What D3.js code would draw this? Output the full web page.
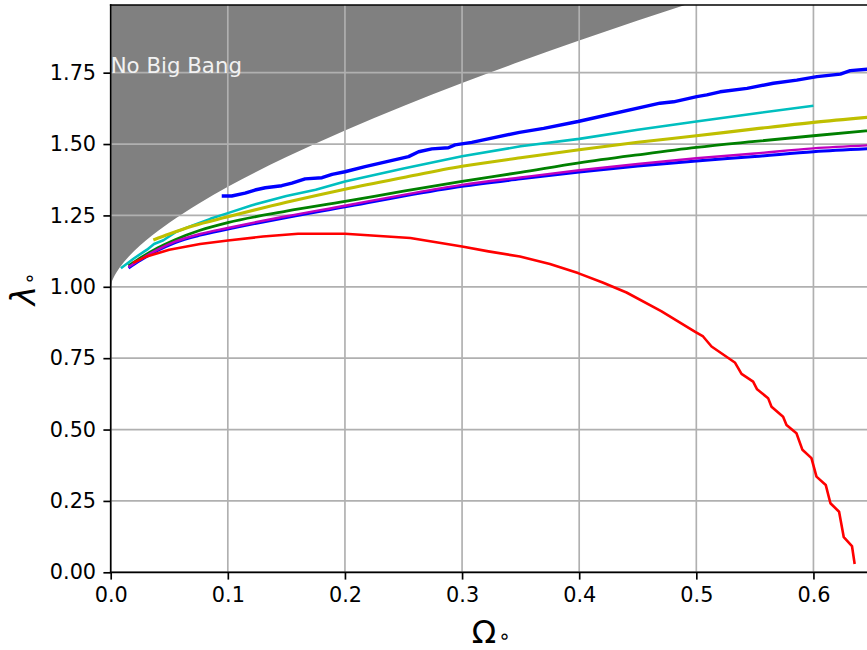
<!DOCTYPE html>
<html>
<head>
<meta charset="utf-8">
<script src="https://cdn.jsdelivr.net/npm/d3@7"></script>
<style>
  body { margin: 0; background: #fff; }
  svg { display: block; font-family: "DejaVu Sans", sans-serif; }
</style>
</head>
<body>
<svg id="chart" width="867" height="650"></svg>
<script>
// ---- data ----
const xTicks = [0.0, 0.1, 0.2, 0.3, 0.4, 0.5, 0.6];
const yTicks = [0.00, 0.25, 0.50, 0.75, 1.00, 1.25, 1.50, 1.75];

// "No Big Bang" boundary
const boundaryOmega  = [0, 0.001, 0.002, 0.005, 0.01, 0.02, 0.03, 0.05, 0.075, 0.1, 0.15, 0.2, 0.25, 0.3, 0.35, 0.4, 0.45, 0.5];
const boundaryLambda = [1.0, 1.018, 1.028, 1.051, 1.08, 1.125, 1.162, 1.2245, 1.291, 1.35, 1.4545, 1.5475, 1.6334, 1.7136, 1.7897, 1.8623, 1.9323, 2.0];

// blue (upper)
const blueUpperOmega  = [0.0948, 0.1033, 0.1147, 0.1232, 0.132, 0.146, 0.1547, 0.166, 0.1804, 0.189, 0.2, 0.2172, 0.2543, 0.2629, 0.2742, 0.2883, 0.294, 0.3083, 0.349, 0.3697, 0.399, 0.469, 0.4806, 0.5004, 0.509, 0.5203, 0.5433, 0.5658, 0.5858, 0.603, 0.623, 0.6314, 0.6462];
const blueUpperLambda = [1.318, 1.318, 1.328, 1.339, 1.347, 1.354, 1.363, 1.378, 1.382, 1.394, 1.403, 1.421, 1.456, 1.473, 1.483, 1.487, 1.497, 1.506, 1.541, 1.555, 1.579, 1.643, 1.648, 1.666, 1.672, 1.683, 1.695, 1.713, 1.724, 1.736, 1.745, 1.757, 1.762];

// cyan
const cyanOmega  = [0.0087, 0.02, 0.031, 0.037, 0.045, 0.056, 0.07, 0.085, 0.1, 0.12, 0.15, 0.175, 0.2, 0.25, 0.3, 0.35, 0.4, 0.45, 0.5, 0.55, 0.6];
const cyanLambda = [1.065, 1.10, 1.130, 1.150, 1.163, 1.193, 1.215, 1.238, 1.258, 1.285, 1.318, 1.340, 1.369, 1.414, 1.457, 1.492, 1.518, 1.550, 1.579, 1.607, 1.634];

// yellow
const yellowOmega  = [0.0364, 0.05, 0.07, 0.1, 0.15, 0.2, 0.25, 0.3, 0.35, 0.4, 0.45, 0.5, 0.55, 0.6, 0.65];
const yellowLambda = [1.164, 1.185, 1.213, 1.245, 1.296, 1.342, 1.383, 1.422, 1.452, 1.480, 1.506, 1.529, 1.553, 1.576, 1.595];

// green
const greenOmega  = [0.0152, 0.025, 0.04, 0.055, 0.0763, 0.1, 0.15, 0.2, 0.25, 0.3, 0.35, 0.4, 0.45, 0.5, 0.55, 0.6, 0.65];
const greenLambda = [1.073, 1.100, 1.136, 1.165, 1.198, 1.225, 1.265, 1.299, 1.335, 1.369, 1.401, 1.434, 1.462, 1.488, 1.509, 1.529, 1.548];

// blue (lower)
const blueLowerOmega  = [0.0152, 0.025, 0.04, 0.055, 0.0763, 0.1, 0.15, 0.2, 0.25, 0.3, 0.35, 0.4, 0.45, 0.5, 0.55, 0.6, 0.65];
const blueLowerLambda = [1.066, 1.092, 1.127, 1.155, 1.181, 1.202, 1.243, 1.280, 1.318, 1.352, 1.378, 1.402, 1.423, 1.441, 1.456, 1.473, 1.484];

// magenta
const magentaOmega  = [0.0152, 0.025, 0.04, 0.055, 0.0763, 0.1, 0.15, 0.2, 0.25, 0.3, 0.35, 0.4, 0.45, 0.5, 0.55, 0.6, 0.65];
const magentaLambda = [1.069, 1.095, 1.130, 1.158, 1.185, 1.206, 1.247, 1.284, 1.322, 1.357, 1.383, 1.408, 1.430, 1.450, 1.467, 1.485, 1.496];

// red
const redOmega  = [0.019, 0.03, 0.05, 0.0763, 0.1, 0.13, 0.16, 0.2, 0.2558, 0.3, 0.3225, 0.3494, 0.375, 0.399, 0.42, 0.4404, 0.47, 0.4987, 0.5058, 0.513, 0.5329, 0.5386, 0.5485, 0.5519, 0.5613, 0.5642, 0.5741, 0.577, 0.5855, 0.5906, 0.5983, 0.6026, 0.6105, 0.6145, 0.6219, 0.6259, 0.6329, 0.6352];
const redLambda = [1.084, 1.105, 1.130, 1.150, 1.162, 1.176, 1.186, 1.186, 1.171, 1.141, 1.124, 1.106, 1.080, 1.048, 1.015, 0.980, 0.915, 0.843, 0.826, 0.791, 0.735, 0.695, 0.668, 0.641, 0.610, 0.580, 0.545, 0.516, 0.487, 0.429, 0.400, 0.335, 0.306, 0.242, 0.212, 0.123, 0.092, 0.029];

const series = [
  { om: blueUpperOmega, la: blueUpperLambda, color: "#0000ff", w: 3.4, smooth: false },
  { om: cyanOmega,      la: cyanLambda,      color: "#00bfbf", w: 2.6, smooth: false },
  { om: yellowOmega,    la: yellowLambda,    color: "#bfbf00", w: 3.1, smooth: true },
  { om: greenOmega,     la: greenLambda,     color: "#008000", w: 2.8, smooth: true },
  { om: blueLowerOmega, la: blueLowerLambda, color: "#0000ff", w: 3.0, smooth: true },
  { om: magentaOmega,   la: magentaLambda,   color: "#bf00bf", w: 2.4, smooth: true },
  { om: redOmega,       la: redLambda,       color: "#ff0000", w: 2.6, smooth: false }
];

// ---- layout ----
const L = 110.7, T = 5, B = 572.3, R = 872;
const svg = d3.select("#chart");
const x = d3.scaleLinear().domain([0, 0.65]).range([L, R]);
const y = d3.scaleLinear().domain([0, 1.987]).range([B, T]);

svg.append("defs").append("clipPath").attr("id", "clip")
  .append("rect").attr("x", L).attr("y", T).attr("width", R - L).attr("height", B - T);

const plot = svg.append("g").attr("clip-path", "url(#clip)");

// shaded region
const bData = boundaryOmega.map((o, i) => [o, boundaryLambda[i]]);
plot.append("path")
  .datum(bData)
  .attr("fill", "#808080")
  .attr("d", d3.area().x(d => x(d[0])).y0(y(2.2)).y1(d => y(d[1])).curve(d3.curveMonotoneX));

// grid
const grid = plot.append("g");
grid.selectAll("line.gx").data(xTicks).enter().append("line")
  .attr("x1", d => x(d)).attr("x2", d => x(d)).attr("y1", T).attr("y2", B)
  .attr("stroke", "#b0b0b0").attr("stroke-width", 1.67);
grid.selectAll("line.gy").data(yTicks).enter().append("line")
  .attr("x1", L).attr("x2", R).attr("y1", d => y(d)).attr("y2", d => y(d))
  .attr("stroke", "#b0b0b0").attr("stroke-width", 1.67);

// lines
series.forEach(s => {
  const line = d3.line().x(d => x(d[0])).y(d => y(d[1]))
    .curve(s.smooth ? d3.curveMonotoneX : d3.curveLinear);
  plot.append("path")
    .datum(s.om.map((o, i) => [o, s.la[i]]))
    .attr("fill", "none")
    .attr("stroke", s.color)
    .attr("stroke-width", s.w)
    .attr("stroke-linejoin", "round")
    .attr("d", line);
});

// annotation
plot.append("text")
  .attr("x", x(0)).attr("y", y(1.75))
  .attr("fill", "#f2f2f2")
  .attr("font-size", "21.3px")
  .text("No Big Bang");

// axes
const fmtX = d3.format(".1f"), fmtY = d3.format(".2f");
const xAxis = svg.append("g").attr("transform", `translate(0,${B})`)
  .call(d3.axisBottom(x).tickValues(xTicks).tickFormat(fmtX).tickSize(7.3).tickPadding(7.3).tickSizeOuter(0));
const yAxis = svg.append("g").attr("transform", `translate(${L},0)`)
  .call(d3.axisLeft(y).tickValues(yTicks).tickFormat(fmtY).tickSize(7.3).tickPadding(7.3).tickSizeOuter(0));
[xAxis, yAxis].forEach(a => {
  a.select(".domain").remove();
  a.selectAll("line").attr("stroke", "#000").attr("stroke-width", 1.67);
  a.selectAll("text").attr("fill", "#000").attr("font-size", "20.8px").attr("font-family", "DejaVu Sans, sans-serif");
});

// spines
const sp = svg.append("g").attr("stroke", "#000").attr("stroke-width", 1.67).attr("stroke-linecap", "square");
sp.append("line").attr("x1", L).attr("x2", L).attr("y1", T).attr("y2", B);
sp.append("line").attr("x1", L).attr("x2", R).attr("y1", B).attr("y2", B);
sp.append("line").attr("x1", L).attr("x2", R).attr("y1", T).attr("y2", T);
sp.append("line").attr("x1", R).attr("x2", R).attr("y1", T).attr("y2", B);

// axis labels
const xl = svg.append("text")
  .attr("x", (L + R) / 2).attr("y", 643)
  .attr("text-anchor", "middle")
  .attr("font-size", "32px").attr("fill", "#000");
xl.append("tspan").text("Ω");
xl.append("tspan").attr("font-size", "20px").attr("dx", "2").attr("dy", "0").text("∘");

const yl = svg.append("text")
  .attr("transform", `translate(35,${(T + B) / 2}) rotate(-90)`)
  .attr("text-anchor", "middle")
  .attr("font-size", "33px").attr("fill", "#000");
yl.append("tspan").attr("font-style", "italic").text("λ");
yl.append("tspan").attr("font-size", "20px").attr("dx", "1").attr("dy", "1").text("∘");
</script>
</body>
</html>
